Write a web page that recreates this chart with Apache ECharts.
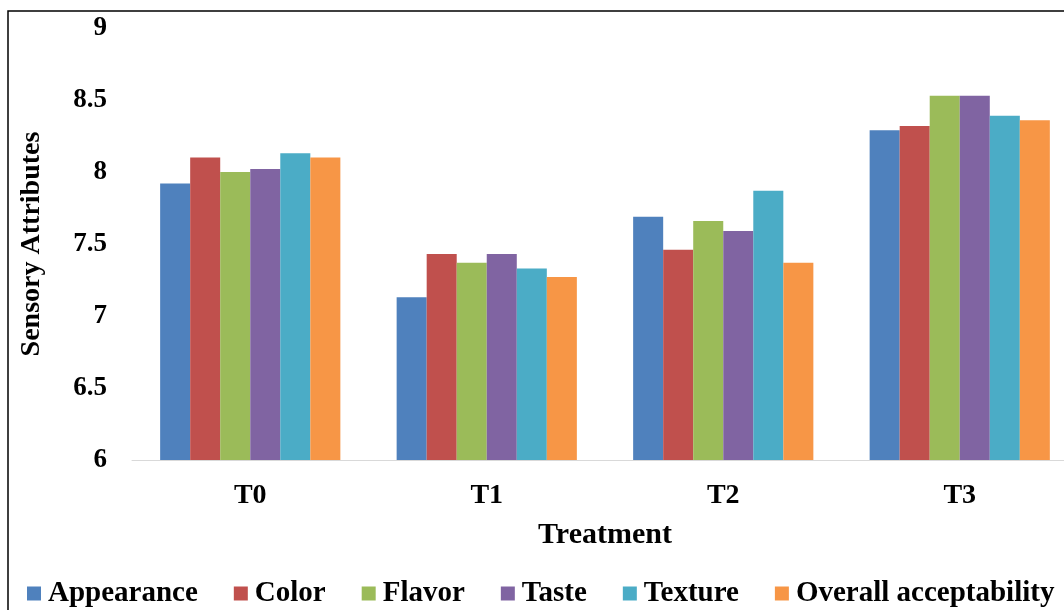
<!DOCTYPE html>
<html>
<head>
<meta charset="utf-8">
<script src="https://cdn.jsdelivr.net/npm/echarts@6/dist/echarts.min.js"></script>
<style>
  html, body { margin: 0; padding: 0; background: #fff; overflow: hidden; }
  /* the plot runs a little past the right edge of the window */
  #chart { width: 1084px; height: 610px; }
</style>
</head>
<body>
<div id="chart"></div>
<script>
// Sensory scores of each treatment
const treatments = ['T0', 'T1', 'T2', 'T3'];
const appearance = [7.92, 7.13, 7.69, 8.29];
const color      = [8.10, 7.43, 7.46, 8.32];
const flavor     = [8.00, 7.37, 7.66, 8.53];
const taste      = [8.02, 7.43, 7.59, 8.53];
const texture    = [8.13, 7.33, 7.87, 8.39];
const overall    = [8.10, 7.27, 7.37, 8.36];

const seriesNames  = ['Appearance', 'Color', 'Flavor', 'Taste', 'Texture', 'Overall acceptability'];
const seriesValues = [appearance, color, flavor, taste, texture, overall];
const palette = ['#4F81BD', '#C0504D', '#9BBB59', '#8064A2', '#4BACC6', '#F79646'];

const serif = '"Liberation Serif", "Times New Roman", serif';

const chart = echarts.init(document.getElementById('chart'), null, { renderer: 'canvas' });

chart.setOption({
  animation: false,
  backgroundColor: '#ffffff',
  color: palette,
  graphic: [{
    type: 'rect',
    shape: { x: 8, y: 11, width: 1200, height: 800 },
    style: { fill: 'none', stroke: '#000', lineWidth: 1.5 },
    silent: true,
    z: -1
  }],
  grid: { left: 132, top: 28, width: 946, height: 432, containLabel: false },
  legend: {
    data: seriesNames,
    left: 22,
    top: 574,
    itemWidth: 14,
    itemHeight: 14,
    itemGap: 36,
    icon: 'rect',
    textStyle: { fontFamily: serif, fontWeight: 'bold', fontSize: 29, color: '#000', padding: [0, 0, 0, 2] }
  },
  xAxis: {
    type: 'category',
    data: treatments,
    name: 'Treatment',
    nameLocation: 'middle',
    nameGap: 60,
    nameTextStyle: { fontFamily: serif, fontWeight: 'bold', fontSize: 30, color: '#000' },
    axisLine: { lineStyle: { color: '#d9d9d9', width: 1 } },
    axisTick: { show: false },
    axisLabel: { margin: 22, fontFamily: serif, fontWeight: 'bold', fontSize: 28, color: '#000' }
  },
  yAxis: {
    type: 'value',
    min: 6,
    max: 9,
    interval: 0.5,
    name: 'Sensory Attributes',
    nameLocation: 'middle',
    nameGap: 86,
    nameTextStyle: { fontFamily: serif, fontWeight: 'bold', fontSize: 28, color: '#000' },
    axisLine: { show: false },
    axisTick: { show: false },
    splitLine: { show: false },
    axisLabel: { margin: 25, fontFamily: serif, fontWeight: 'bold', fontSize: 27, color: '#000' }
  },
  series: seriesNames.map((name, i) => ({
    name: name,
    type: 'bar',
    data: seriesValues[i],
    barGap: '0%',
    barCategoryGap: '23.8%',
    itemStyle: { color: palette[i] }
  }))
});
</script>
</body>
</html>
